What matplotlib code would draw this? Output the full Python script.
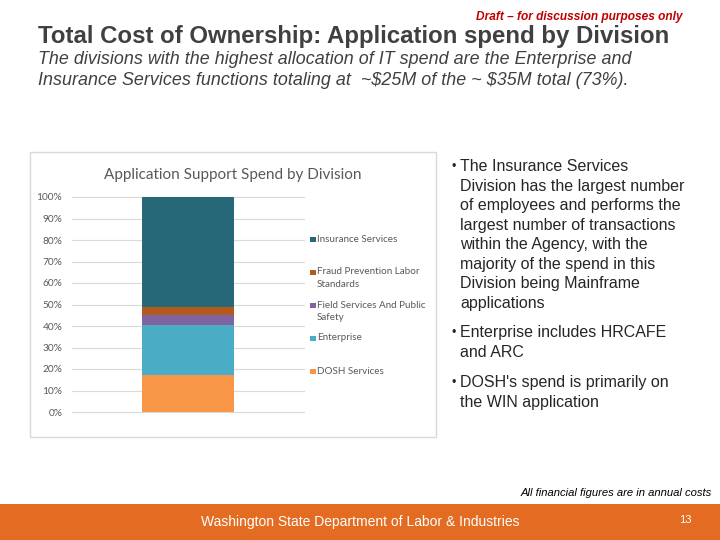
import matplotlib.pyplot as plt
from matplotlib.patches import Rectangle

plt.rcParams['font.family'] = ['Liberation Sans', 'DejaVu Sans']

# data (share of application support spend, %)
divisions = ['DOSH Services', 'Enterprise', 'Field Services And Public\nSafety',
             'Fraud Prevention Labor\nStandards', 'Insurance Services']
shares = [17.4, 22.9, 4.6, 3.8, 51.3]
colors = ['#F79646', '#4BACC6', '#8064A2', '#B35A1C', '#276878']
yticks = [0, 10, 20, 30, 40, 50, 60, 70, 80, 90, 100]

W, H = 720, 540
fig = plt.figure(figsize=(7.2, 5.4), dpi=100)


def px(x, y):
    # pixel coords (top-left origin) -> figure fraction
    return x / W, 1 - y / H


# slide header
fig.text(*px(683, 17), 'Draft \u2013 for discussion purposes only', color='#C00000',
         fontsize=8.6, fontstyle='italic', fontweight='bold', ha='right', va='center')
fig.text(*px(38, 36), 'Total Cost of Ownership: Application spend by Division',
         color='#404040', fontsize=17.3, fontweight='bold', ha='left', va='center')
fig.text(*px(38, 70), 'The divisions with the highest allocation of IT spend are the Enterprise and\n'
         'Insurance Services functions totaling at  ~\\$25M of the ~ \\$35M total (73%).',
         color='#404040', fontsize=12.9, fontstyle='italic', ha='left', va='center',
         linespacing=1.25)

# chart frame
fig.patches.append(Rectangle(px(30, 437), 406 / W, 285 / H, transform=fig.transFigure,
                             facecolor='white', edgecolor='#D9D9D9', linewidth=1, zorder=-1))
fig.text(*px(233, 175), 'Application Support Spend by Division', color='#595959',
         fontsize=11, ha='center', va='center', family=['Lato', 'DejaVu Sans'])

l, b = px(72, 412)
r, t = px(304, 197)
ax = fig.add_axes([l, b, r - l, t - b])
bottom = 0
for name, val, c in zip(divisions, shares, colors):
    ax.bar(0, val, width=0.4, bottom=bottom, color=c, label=name, zorder=3)
    bottom += val
ax.set_xlim(-0.5, 0.5)
ax.set_ylim(0, 100)
ax.set_yticks(yticks)
ax.set_yticklabels([f'{v}%' for v in yticks], fontsize=7.3, color='#595959',
                   family=['Lato', 'DejaVu Sans'])
ax.set_xticks([])
ax.tick_params(axis='y', length=0, pad=7)
ax.grid(axis='y', color='#D9D9D9', linewidth=0.8, zorder=0)
for gl in ax.get_ygridlines():
    gl.set_clip_on(False)
for s in ax.spines.values():
    s.set_visible(False)
ax.patch.set_alpha(0)

# legend, Excel style: evenly spaced entries, square beside the first line
for i, (name, c) in enumerate(zip(divisions[::-1], colors[::-1])):
    y = 239 + 33 * i
    fig.patches.append(Rectangle(px(310, y + 3), 5.5 / W, 5.5 / H, transform=fig.transFigure,
                                 facecolor=c, edgecolor='none'))
    fig.text(*px(317, y - 4.5), name, color='#595959', fontsize=7.1, ha='left', va='top',
             linespacing=1.55, family=['Lato', 'DejaVu Sans'])

# bullets
bullets = [
    (167, 'The Insurance Services\nDivision has the largest number\nof employees and performs the\n'
          'largest number of transactions\nwithin the Agency, with the\nmajority of the spend in this\n'
          'Division being Mainframe\napplications'),
    (333, 'Enterprise includes HRCAFE\nand ARC'),
    (383, "DOSH's spend is primarily on\nthe WIN application"),
]
for y, txt in bullets:
    fig.text(*px(452, y), '\u2022', color='#262626', fontsize=9, ha='left', va='center')
    fig.text(*px(460, y - 8), txt, color='#262626', fontsize=11.5, ha='left', va='top',
             linespacing=1.38)

# footer
fig.text(*px(712, 493), 'All financial figures are in annual costs', color='black',
         fontsize=8.1, fontstyle='italic', ha='right', va='center')
fig.patches.append(Rectangle((0, 0), 1, 36 / H, transform=fig.transFigure,
                             facecolor='#E36C22', edgecolor='none'))
fig.text(*px(360, 522), 'Washington State Department of Labor & Industries', color='white',
         fontsize=10, ha='center', va='center')
fig.text(*px(685, 520), '13', color='white', fontsize=8, ha='center', va='center')

fig.savefig('out.png', dpi=100)
